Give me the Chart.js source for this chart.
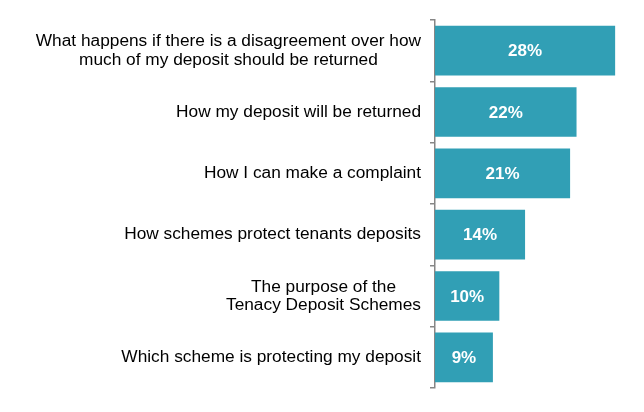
<!DOCTYPE html>
<html>
<head>
<meta charset="utf-8">
<script src="https://cdn.jsdelivr.net/npm/chart.js@4"></script>
<style>
html,body{margin:0;padding:0;background:#fff;}
#c{display:block;}
</style>
</head>
<body>
<canvas id="c" width="644" height="412"></canvas>
<script>
const categories = [
  ["What happens if there is a disagreement over how", "much of my deposit should be returned"],
  "How my deposit will be returned",
  "How I can make a complaint",
  "How schemes protect tenants deposits",
  ["The purpose of the", "Tenacy Deposit Schemes"],
  "Which scheme is protecting my deposit"
];
const values = [28, 22, 21, 14, 10, 9];
const valueLabels = ["28%", "22%", "21%", "14%", "10%", "9%"];

const FONT = '"Liberation Sans", Arial, sans-serif';

const labelPlugin = {
  id: 'customLabels',
  afterDraw(chart) {
    const ctx = chart.ctx;
    const ys = chart.scales.y;
    ctx.save();
    // category labels
    ctx.font = '17.3px ' + FONT;
    ctx.fillStyle = '#000000';
    ctx.textBaseline = 'middle';
    ctx.textAlign = 'center';
    const rightX = ys.right - 14;
    const lh = 18.5;
    categories.forEach((lab, i) => {
      const lines = Array.isArray(lab) ? lab : [lab];
      const w = Math.max(...lines.map(l => ctx.measureText(l).width));
      const cx = rightX - w / 2;
      const cy = ys.getPixelForValue(i);
      lines.forEach((l, j) => {
        ctx.fillText(l, cx, cy + (j - (lines.length - 1) / 2) * lh);
      });
    });
    // value labels
    ctx.font = 'bold 17px ' + FONT;
    ctx.fillStyle = '#ffffff';
    const meta = chart.getDatasetMeta(0);
    meta.data.forEach((bar, i) => {
      const p = bar.getProps(['x', 'y', 'base'], true);
      ctx.fillText(valueLabels[i], (p.x + p.base) / 2, p.y + 1);
    });
    ctx.restore();
  }
};

new Chart(document.getElementById('c'), {
  type: 'bar',
  data: {
    labels: categories,
    datasets: [{
      data: values,
      backgroundColor: '#319FB5',
      borderWidth: 0,
      categoryPercentage: 0.9,
      barPercentage: 0.9
    }]
  },
  options: {
    indexAxis: 'y',
    responsive: false,
    animation: false,
    devicePixelRatio: 1,
    layout: { padding: { top: 20, bottom: 24, right: 16, left: 0 } },
    plugins: { legend: { display: false }, tooltip: { enabled: false } },
    scales: {
      x: {
        display: false,
        min: 0,
        max: 30
      },
      y: {
        afterFit(scale) { scale.width = 435; },
        border: { display: true, color: '#868686', width: 1.5 },
        grid: { drawOnChartArea: false, color: '#868686', tickLength: 5, lineWidth: 1.5, offset: true },
        ticks: { display: false }
      }
    }
  },
  plugins: [labelPlugin]
});
</script>
</body>
</html>
